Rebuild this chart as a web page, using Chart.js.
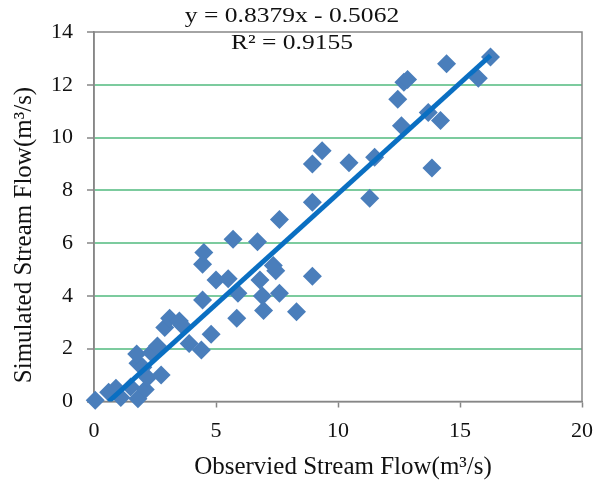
<!DOCTYPE html>
<html>
<head>
<meta charset="utf-8">
<script src="https://cdn.jsdelivr.net/npm/chart.js@4.4.0/dist/chart.umd.min.js"></script>
<style>
  body { margin: 0; background: #fff; }
  canvas { display: block; }
</style>
</head>
<body>
<canvas id="flowChart" width="603" height="484"></canvas>
<script>
// observed vs simulated stream flow (m3/s)
const observed = [
  0.05, 0.6, 0.9, 1.1, 1.5, 1.8, 2.1, 1.8, 2.0, 1.75,
  2.35, 2.6, 2.2, 2.75, 2.9, 3.1, 3.5, 3.6, 3.9, 4.4,
  4.8, 4.45, 4.45, 4.5, 5.0, 5.5, 5.9, 5.85, 5.7, 6.7,
  6.8, 6.9, 6.95, 7.35, 7.45, 7.6, 7.6, 8.3, 8.95, 8.95,
  8.95, 9.35, 10.45, 11.3, 11.5, 12.45, 12.6, 12.7, 12.85, 13.7,
  13.85, 14.2, 14.45, 15.75, 16.25
];
const simulated = [
  0.05, 0.35, 0.5, 0.15, 0.55, 0.1, 0.45, 1.45, 1.3, 1.8,
  1.85, 2.1, 0.9, 1.0, 2.8, 3.15, 3.05, 2.9, 2.2, 1.95,
  2.55, 3.85, 5.2, 5.65, 4.6, 4.65, 4.1, 3.15, 6.15, 6.05,
  4.6, 4.0, 3.45, 5.15, 4.95, 4.1, 6.9, 3.4, 4.75, 7.55,
  9.0, 9.5, 9.05, 7.7, 9.25, 11.45, 10.45, 12.1, 12.2, 10.95,
  8.85, 10.65, 12.8, 12.25, 13.05
];

// linear fit reported on the chart
const slope = 0.8379;
const intercept = -0.5062;
const rSquared = 0.9155;

const xTicks = [0, 5, 10, 15, 20];
const yTicks = [0, 2, 4, 6, 8, 10, 12, 14];

const xTitle = 'Observied Stream Flow(m\u00B3/s)';
const yTitle = 'Simulated Stream Flow(m\u00B3/s)';

const points = observed.map((x, i) => ({ x: x, y: simulated[i] }));

// fit line runs from where it crosses zero up to the largest observation
const xStart = Math.max(Math.min(...observed), -intercept / slope);
const xEnd = Math.max(...observed);
const fitLine = [xStart, xEnd].map(x => ({ x: x, y: slope * x + intercept }));

const serif = '"Liberation Serif", "Times New Roman", serif';
const axisGray = '#868686';

// plot frame, axis titles and the fit equation
const framePlugin = {
  id: 'frame',
  beforeDatasetsDraw(chart) {
    const a = chart.chartArea;
    const ctx = chart.ctx;
    ctx.save();
    ctx.strokeStyle = axisGray;
    ctx.lineWidth = 1.5;
    ctx.strokeRect(a.left, a.top, a.right - a.left, a.bottom - a.top);
    ctx.restore();
  },
  afterDraw(chart) {
    const a = chart.chartArea;
    const ctx = chart.ctx;
    ctx.save();
    ctx.fillStyle = '#111';
    ctx.textAlign = 'center';
    ctx.textBaseline = 'middle';

    // axis titles
    ctx.font = '25px ' + serif;
    ctx.fillText(xTitle, a.left + 249, a.bottom + 66);
    ctx.save();
    ctx.translate(24, a.top + 203);
    ctx.rotate(-Math.PI / 2);
    ctx.fillText(yTitle, 0, 0);
    ctx.restore();

    // trendline equation
    const sign = intercept < 0 ? ' - ' : ' + ';
    const lines = [
      ['y = ' + slope.toFixed(4) + 'x' + sign + Math.abs(intercept).toFixed(4), a.left + 198, a.top - 16],
      ['R\u00B2 = ' + rSquared.toFixed(4), a.left + 198, a.top + 11]
    ];
    ctx.font = '22px ' + serif;
    lines.forEach(([text, x, y]) => {
      ctx.save();
      ctx.translate(x, y);
      ctx.scale(1.16, 1);
      ctx.fillText(text, 0, 0);
      ctx.restore();
    });
    ctx.restore();
  }
};

const myChart = new Chart(document.getElementById('flowChart'), {
  type: 'scatter',
  data: {
    datasets: [
      {
        type: 'line',
        label: 'Linear fit',
        data: fitLine,
        borderColor: '#0A6FC2',
        borderWidth: 5,
        pointRadius: 0,
        fill: false
      },
      {
        label: 'Stream flow',
        data: points,
        pointStyle: 'rectRot',
        pointRadius: 9.5,
        pointHoverRadius: 9.5,
        backgroundColor: '#4A7EBB',
        borderColor: '#4A7EBB',
        borderWidth: 0,
        clip: false
      }
    ]
  },
  options: {
    responsive: false,
    animation: false,
    layout: { padding: { top: 32, right: 21, left: 0, bottom: 0 } },
    plugins: {
      legend: { display: false },
      tooltip: { enabled: false }
    },
    scales: {
      x: {
        type: 'linear',
        min: 0,
        max: 20,
        afterBuildTicks: (axis) => { axis.ticks = xTicks.map(v => ({ value: v })); },
        afterFit: (scale) => {
          scale.height = 82.5;
          scale.paddingLeft = 0;
          scale.paddingRight = 0;
        },
        border: { color: axisGray, width: 1.5 },
        grid: { drawOnChartArea: false, tickColor: axisGray, tickLength: 6, tickWidth: 1.5 },
        ticks: { color: '#111', font: { family: serif, size: 22 }, padding: 11, maxRotation: 0 }
      },
      y: {
        type: 'linear',
        min: 0,
        max: 14,
        afterBuildTicks: (axis) => { axis.ticks = yTicks.map(v => ({ value: v })); },
        afterFit: (scale) => {
          scale.width = 94;
          scale.paddingTop = 0;
          scale.paddingBottom = 0;
        },
        border: { color: axisGray, width: 1.5 },
        grid: {
          color: (c) => (c.tick && c.tick.value > 0 && c.tick.value < 14) ? '#7CCB9E' : 'rgba(0,0,0,0)',
          lineWidth: 2,
          tickColor: axisGray,
          tickLength: 7,
          tickWidth: 1.5
        },
        ticks: { color: '#111', font: { family: serif, size: 22 }, padding: 14 }
      }
    }
  },
  plugins: [framePlugin]
});
</script>
</body>
</html>
